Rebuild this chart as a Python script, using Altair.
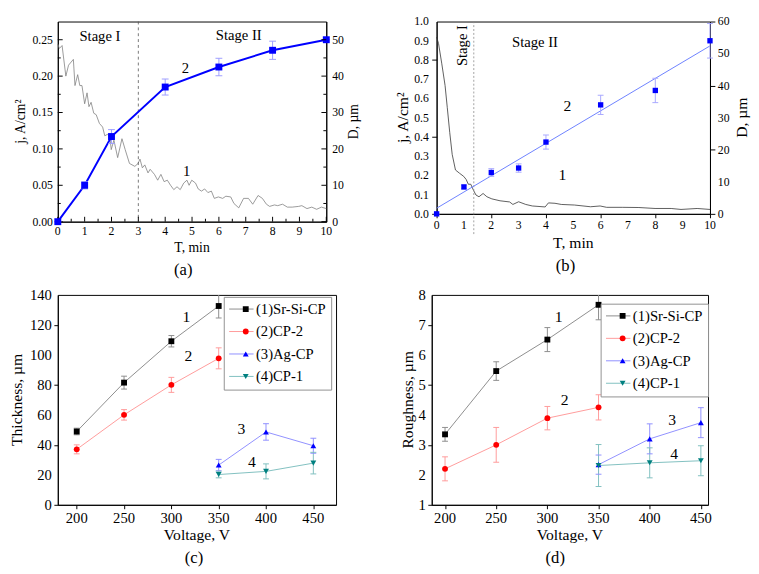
import altair as alt
import pandas as pd

FONT = "Liberation Serif"

# ---------------- Panel (a) data ----------------
a_curve_T = [0, 0.06, 0.16, 0.3, 0.4, 0.58, 0.64, 0.74, 0.82, 0.9, 1.0, 1.09, 1.16, 1.24, 1.34,
             1.43, 1.55, 1.67, 1.75, 1.85, 1.94, 1.99, 2.09, 2.23, 2.39, 2.51, 2.67, 2.87, 2.99, 3.06,
             3.15, 3.24, 3.36, 3.44, 3.6, 3.72, 3.84, 3.96, 4.08, 4.2, 4.32, 4.44, 4.56, 4.69, 4.81,
             4.89, 4.99, 5.13, 5.23, 5.35, 5.47, 5.59, 5.72, 5.83, 5.98, 6.14, 6.26, 6.44, 6.56, 6.74,
             6.92, 7.1, 7.26, 7.46, 7.62, 7.77, 7.89, 8.07, 8.19, 8.37, 8.55, 8.73, 8.97, 9.09, 9.28,
             9.46, 9.64, 9.82, 10]
a_curve_j = [0.244, 0.238, 0.242, 0.200, 0.215, 0.223, 0.187, 0.202, 0.187, 0.187, 0.162, 0.177, 0.158, 0.164, 0.149,
             0.147, 0.135, 0.130, 0.118, 0.120, 0.116, 0.099, 0.112, 0.088, 0.114, 0.099, 0.080, 0.076, 0.080, 0.086,
             0.074, 0.078, 0.067, 0.072, 0.065, 0.057, 0.065, 0.055, 0.057, 0.050, 0.044, 0.048, 0.044, 0.053, 0.057,
             0.050, 0.057, 0.053, 0.045, 0.042, 0.045, 0.040, 0.042, 0.032, 0.034, 0.032, 0.035, 0.034, 0.025, 0.019,
             0.032, 0.032, 0.024, 0.036, 0.032, 0.024, 0.021, 0.023, 0.022, 0.024, 0.020, 0.020, 0.021, 0.022, 0.018,
             0.020, 0.017, 0.020, 0.018]
a_pts_T = [0, 1, 2, 4, 6, 8, 10]
a_pts_D = [0, 10, 23.4, 37, 42.5, 47.1, 50]
a_pts_err = [0, 1.0, 1.9, 2.2, 2.4, 2.5, 0]
a_stage_T = [1.57, 6.74]
a_stage_j = [0.2546, 0.257]
a_stage_text = ["Stage I", "Stage II"]
a_stage_boundary = [3]

# ---------------- Panel (b) data ----------------
b_curve_T = [0, 0.07, 0.19, 0.31, 0.39, 0.48, 0.57, 0.69, 0.84, 0.99, 1.08, 1.16, 1.25, 1.35, 1.44,
             1.55, 1.70, 1.84, 2.02, 2.32, 2.67, 2.79, 3.0, 3.26, 3.5, 3.97, 4.09, 4.33, 4.56, 5.04,
             5.63, 5.98, 6.22, 6.81, 7.4, 7.99, 8.58, 8.94, 9.53, 10]
b_curve_j = [0.919, 0.886, 0.78, 0.667, 0.553, 0.423, 0.309, 0.228, 0.211, 0.195, 0.179, 0.154, 0.154, 0.122, 0.098,
             0.089, 0.106, 0.089, 0.078, 0.068, 0.062, 0.049, 0.063, 0.049, 0.041, 0.036, 0.057, 0.055, 0.049, 0.046,
             0.037, 0.041, 0.034, 0.034, 0.033, 0.028, 0.028, 0.023, 0.028, 0.023]
b_pts_T = [0, 1, 2, 3, 4, 6, 8, 10]
b_pts_D = [0, 8.4, 12.9, 14.3, 22.4, 34.0, 38.5, 54.0]
b_pts_err = [0, 0.6, 1.2, 1.3, 2.2, 3.0, 3.8, 5.4]
b_fit_T = [0, 10]
b_fit_D = [1.76, 52.4]
b_stage_boundary = [1.36]

# ---------------- Panels (c), (d) data ----------------
series_names = ["(1)Sr-Si-CP", "(2)CP-2", "(3)Ag-CP", "(4)CP-1"]
series_V = [[200, 250, 300, 350], [200, 250, 300, 350], [350, 400, 450], [350, 400, 450]]
c_vals = [[48.9, 81.5, 109.1, 132.6], [37.0, 60.0, 80.0, 97.7], [26.5, 48.6, 39.4], [20.2, 22.3, 27.8]]
c_errs = [[2.2, 4.3, 3.8, 8.0], [3.0, 3.5, 5.0, 7.0], [3.8, 5.5, 5.0], [2.2, 5.0, 7.2]]
d_vals = [[3.35, 5.46, 6.51, 7.67], [2.2, 3.0, 3.89, 4.25], [2.34, 3.2, 3.74], [2.31, 2.4, 2.47]]
d_errs = [[0.23, 0.31, 0.4, 0.5], [0.4, 0.58, 0.39, 0.42], [0.32, 0.5, 0.5], [0.7, 0.5, 0.5]]
c_lab_V = [316, 318, 374, 385]
c_lab_y = [125.3, 99.5, 50.8, 28.3]
d_lab_V = [311, 317, 422, 424]
d_lab_y = [7.26, 4.49, 3.82, 2.69]
lab_text = ["1", "2", "3", "4"]

# ---------------- tick values and tick labels ----------------
t_ticks = [0, 1, 2, 3, 4, 5, 6, 7, 8, 9, 10]
t_labels = ["0", "1", "2", "3", "4", "5", "6", "7", "8", "9", "10"]
t_minor = [0.5, 1.5, 2.5, 3.5, 4.5, 5.5, 6.5, 7.5, 8.5, 9.5]
a_j_ticks = [0, 0.05, 0.1, 0.15, 0.2, 0.25]
a_j_labels = ["0.00", "0.05", "0.10", "0.15", "0.20", "0.25"]
a_j_minor = [0.025, 0.075, 0.125, 0.175, 0.225]
a_D_ticks = [0, 10, 20, 30, 40, 50]
a_D_labels = ["0", "10", "20", "30", "40", "50"]
a_D_minor = [5, 15, 25, 35, 45]
b_j_ticks = [0, 0.1, 0.2, 0.3, 0.4, 0.5, 0.6, 0.7, 0.8, 0.9, 1.0]
b_j_labels = ["0.0", "0.1", "0.2", "0.3", "0.4", "0.5", "0.6", "0.7", "0.8", "0.9", "1.0"]
b_D_ticks = [0, 10, 20, 30, 40, 50, 60]
b_D_labels = ["0", "10", "20", "30", "40", "50", "60"]
v_ticks = [200, 250, 300, 350, 400, 450]
v_labels = ["200", "250", "300", "350", "400", "450"]
c_y_ticks = [0, 20, 40, 60, 80, 100, 120, 140]
c_y_labels = ["0", "20", "40", "60", "80", "100", "120", "140"]
d_y_ticks = [1, 2, 3, 4, 5, 6, 7, 8]
d_y_labels = ["1", "2", "3", "4", "5", "6", "7", "8"]

light_colors = ["#8c8c8c", "#ff9a9a", "#8f8fff", "#7fbfbf"]
dark_colors = ["#000000", "#ff0000", "#0000ff", "#008080"]
shapes = ["square", "circle", "triangle-up", "triangle-down"]


def axis(**kw):
    base = dict(labels=False, title=None, domainColor="black", tickColor="black", grid=False,
                labelColor="transparent")
    base.update(kw)
    return alt.Axis(**base)


def pos(ch, field):
    return ch(f"{field}:Q", title=None)


def text_layer(xs, ys, t, xf, yf, size, **kw):
    df = pd.DataFrame({xf: xs, yf: ys, "t": t})
    return alt.Chart(df).mark_text(font=FONT, fontSize=size, color="black", **kw).encode(
        x=pos(alt.X, xf), y=pos(alt.Y, yf), text="t:N")


def ylabels(vals, texts, field, x_px, align, size):
    df = pd.DataFrame({field: vals, "t": texts})
    return alt.Chart(df).mark_text(font=FONT, fontSize=size, color="black", align=align,
                                   baseline="middle").encode(
        y=pos(alt.Y, field), x=alt.value(x_px), text="t:N")


def xlabels(vals, texts, field, y_px, size):
    df = pd.DataFrame({field: vals, "t": texts})
    return alt.Chart(df).mark_text(font=FONT, fontSize=size, color="black", align="center",
                                   baseline="top").encode(
        x=pos(alt.X, field), y=alt.value(y_px), text="t:N")


def free_text(t, x_px, y_px, size, angle=0, baseline="middle"):
    return alt.Chart(pd.DataFrame({"t": [t]})).mark_text(
        font=FONT, fontSize=size, color="black", angle=angle, baseline=baseline, align="center").encode(
        x=alt.value(x_px), y=alt.value(y_px), text="t:N")


def caption(t, dx):
    return alt.TitleParams(t, orient="bottom", fontSize=17, font=FONT, fontWeight="normal",
                           color="black", offset=8, anchor="middle", dx=dx)


def err_layers(df, xf, cap, color=None, color_enc=None, clip=False):
    kw = {} if color_enc is None else {"color": color_enc}
    mk = {} if color is None else {"color": color}
    rule = alt.Chart(df).mark_rule(strokeWidth=1, clip=clip, **mk).encode(
        x=pos(alt.X, xf), y=pos(alt.Y, "lo"), y2="hi:Q", **kw)
    lo = alt.Chart(df).mark_point(shape="stroke", size=cap, strokeWidth=1, opacity=1, filled=False,
                                  clip=clip, **mk).encode(x=pos(alt.X, xf), y=pos(alt.Y, "lo"), **kw)
    hi = alt.Chart(df).mark_point(shape="stroke", size=cap, strokeWidth=1, opacity=1, filled=False,
                                  clip=clip, **mk).encode(x=pos(alt.X, xf), y=pos(alt.Y, "hi"), **kw)
    return [rule, lo, hi]


def vticks(vals, field, y0, length):
    return alt.Chart(pd.DataFrame({field: vals})).mark_rule(color="black").encode(
        x=pos(alt.X, field), y=alt.value(y0), y2=alt.value(y0 - length))


def hticks(vals, field, x0, length):
    return alt.Chart(pd.DataFrame({field: vals})).mark_rule(color="black").encode(
        y=pos(alt.Y, field), x=alt.value(x0), x2=alt.value(x0 + length))


# ======================= Panel (a) =======================
WA, HA = 275, 205
dfa_curve = pd.DataFrame({"T": a_curve_T, "j": a_curve_j})
dfa_pts = pd.DataFrame({"T": a_pts_T, "D": a_pts_D,
                        "lo": [d - e for d, e in zip(a_pts_D, a_pts_err)],
                        "hi": [d + e for d, e in zip(a_pts_D, a_pts_err)]})

xA = alt.X("T:Q", scale=alt.Scale(domain=[0, 10], nice=False), title=None, axis=axis(ticks=False))
yAj = alt.Y("j:Q", scale=alt.Scale(domain=[0, 0.275], nice=False), title=None, axis=axis(ticks=False))
yAD = alt.Y("D:Q", scale=alt.Scale(domain=[0, 55], nice=False), title=None,
            axis=axis(orient="right", ticks=False))

a_line_j = alt.Chart(dfa_curve).mark_line(color="#808080", strokeWidth=0.8).encode(x=xA, y=yAj)
a_vrule = alt.Chart(pd.DataFrame({"T": a_stage_boundary})).mark_rule(
    color="#555555", strokeDash=[3, 3], strokeWidth=0.8).encode(x=pos(alt.X, "T"))
a_stage = text_layer(a_stage_T, a_stage_j, a_stage_text, "T", "j", 15)
a_lab1 = text_layer([4.8], [0.069], ["1"], "T", "j", 15)

a_j_layers = [a_line_j, a_vrule, a_stage, a_lab1,
              vticks(t_ticks, "T", HA, 5), vticks(t_minor, "T", HA, 3),
              hticks(a_j_ticks, "j", 0, 5), hticks(a_j_minor, "j", 0, 3),
              ylabels(a_j_ticks, a_j_labels, "j", -5, "right", 12),
              xlabels(t_ticks, t_labels, "T", HA + 5, 12),
              free_text("T, min", WA / 2, HA + 20, 14, baseline="top"),
              free_text("j, A/cm²", -38, HA / 2, 14, angle=270)]

a_line_D = alt.Chart(dfa_pts).mark_line(color="#0000ff", strokeWidth=2).encode(x=pos(alt.X, "T"), y=yAD)
a_pts = alt.Chart(dfa_pts).mark_square(size=50, color="#0000ff", opacity=1).encode(
    x=pos(alt.X, "T"), y=pos(alt.Y, "D"))
a_D_layers = [a_line_D, *err_layers(dfa_pts, "T", 49, color="#9c9cff"), a_pts,
              text_layer([4.75], [42.1], ["2"], "T", "D", 15),
              hticks(a_D_ticks, "D", WA, -5), hticks(a_D_minor, "D", WA, -3),
              ylabels(a_D_ticks, a_D_labels, "D", WA + 6, "left", 12),
              free_text("D, µm", WA + 28, HA / 2, 14, angle=270)]

panel_a = alt.layer(alt.layer(*a_j_layers), alt.layer(*a_D_layers)).resolve_scale(
    y="independent").properties(width=WA, height=HA, title=caption("(a)", -9))

# ======================= Panel (b) =======================
WB, HB = 280, 197
dfb_curve = pd.DataFrame({"T": b_curve_T, "j": b_curve_j})
dfb_pts = pd.DataFrame({"T": b_pts_T, "D": b_pts_D,
                        "lo": [d - e for d, e in zip(b_pts_D, b_pts_err)],
                        "hi": [d + e for d, e in zip(b_pts_D, b_pts_err)]})
dfb_fit = pd.DataFrame({"T": b_fit_T, "D": b_fit_D})

xB = alt.X("T:Q", scale=alt.Scale(domain=[0, 10], nice=False), title=None,
           axis=axis(values=t_ticks, tickSize=4))
yBj = alt.Y("j:Q", scale=alt.Scale(domain=[0, 1], nice=False), title=None,
            axis=axis(values=b_j_ticks, tickSize=5))
yBD = alt.Y("D:Q", scale=alt.Scale(domain=[0, 60], nice=False), title=None,
            axis=axis(orient="right", values=b_D_ticks, tickSize=5))

b_line_j = alt.Chart(dfb_curve).mark_line(color="#333333", strokeWidth=0.8).encode(x=xB, y=yBj)
b_vrule = alt.Chart(pd.DataFrame({"T": b_stage_boundary, "j": [-0.105], "j1": [1.0]})).mark_rule(
    color="#888888", strokeDash=[2, 2], strokeWidth=0.8).encode(x=pos(alt.X, "T"), y=pos(alt.Y, "j"), y2="j1:Q")
b_j_layers = [b_line_j, b_vrule,
              text_layer([0.93], [0.875], ["Stage I"], "T", "j", 15, angle=270),
              text_layer([3.6], [0.894], ["Stage II"], "T", "j", 15),
              text_layer([4.6], [0.203], ["1"], "T", "j", 16),
              text_layer([4.78], [0.561], ["2"], "T", "j", 16),
              ylabels(b_j_ticks, b_j_labels, "j", -8, "right", 12),
              xlabels(t_ticks, t_labels, "T", HB + 7, 12),
              free_text("T, min", WB / 2, HB + 22, 16, baseline="top"),
              free_text("j, A/cm²", -34, HB / 2, 16, angle=270)]

b_fit = alt.Chart(dfb_fit).mark_line(color="#6b7fff", strokeWidth=1).encode(x=pos(alt.X, "T"), y=yBD)
b_pts = alt.Chart(dfb_pts).mark_square(size=30, color="#0000ff", opacity=1).encode(
    x=pos(alt.X, "T"), y=pos(alt.Y, "D"))
b_D_layers = [b_fit, *err_layers(dfb_pts, "T", 36, color="#a8a8ff"), b_pts,
              ylabels(b_D_ticks, b_D_labels, "D", WB + 8, "left", 12),
              free_text("D, µm", WB + 33, HB / 2, 16, angle=270)]

panel_b = alt.layer(alt.layer(*b_j_layers), alt.layer(*b_D_layers)).resolve_scale(
    y="independent").properties(width=WB, height=HB, title=caption("(b)", -8))


# ======================= Panels (c), (d) =======================
def make_cd(vals, errs, ydom, yticks, ylabs, ytitle, ytitle_x, xdom, W, H, labV, labY,
            legX, legY, cap, cap_dx):
    rows = []
    for name, Vs, vs, es in zip(series_names, series_V, vals, errs):
        for V, v, e in zip(Vs, vs, es):
            rows.append({"series": name, "line_series": name, "V": V, "val": v, "lo": v - e, "hi": v + e})
    df = pd.DataFrame(rows)
    x = alt.X("V:Q", scale=alt.Scale(domain=xdom, nice=False, zero=False), title=None,
              axis=axis(values=v_ticks, tickSize=4))
    y = alt.Y("val:Q", scale=alt.Scale(domain=ydom, nice=False, zero=False), title=None,
              axis=axis(values=yticks, tickSize=4))
    line_legend = alt.Legend(title=None, orient="none", legendX=legX, legendY=legY, symbolType="stroke",
                             symbolSize=625, symbolStrokeWidth=1, labelFont=FONT, labelFontSize=15,
                             labelColor="black", labelOffset=2, rowPadding=7, padding=5, clipHeight=15,
                             strokeColor="#909090", fillColor="white", labelLimit=300)
    color_enc = alt.Color("line_series:N", scale=alt.Scale(range=light_colors), legend=line_legend)
    line = alt.Chart(df).mark_line(strokeWidth=1).encode(x=x, y=y, color=color_enc)
    errs_l = err_layers(df, "V", 36, color_enc=color_enc, clip=True)
    mk_legend = alt.Legend(title=None, orient="none", legendX=legX, legendY=legY, symbolSize=36,
                           symbolStrokeWidth=0, symbolOffset=10, labelFont=FONT, labelFontSize=15,
                           labelOpacity=0, labelOffset=2, rowPadding=7, padding=5, clipHeight=15,
                           labelLimit=300)
    pts = alt.Chart(df).mark_point(filled=True, size=36, opacity=1).encode(
        x=pos(alt.X, "V"), y=pos(alt.Y, "val"),
        fill=alt.Fill("series:N", scale=alt.Scale(domain=series_names, range=dark_colors), legend=mk_legend),
        shape=alt.Shape("series:N", scale=alt.Scale(domain=series_names, range=shapes), legend=mk_legend))
    labs = text_layer(labV, labY, lab_text, "V", "val", 16)
    guides = [ylabels(yticks, ylabs, "val", -6, "right", 15),
              xlabels(v_ticks, v_labels, "V", H + 7, 15),
              free_text("Voltage, V", W / 2, H + 23, 16, baseline="top"),
              free_text(ytitle, ytitle_x, H / 2, 16, angle=270)]
    return alt.layer(line, *errs_l, pts, labs, *guides).properties(
        width=W, height=H, title=caption(cap, cap_dx))


panel_c = make_cd(c_vals, c_errs, [0, 140], c_y_ticks, c_y_labels, "Thickness, µm", -42,
                  [180, 474], 285, 215, c_lab_V, c_lab_y, 170, 2, "(c)", -3)
panel_d = make_cd(d_vals, d_errs, [1, 8], d_y_ticks, d_y_labels, "Roughness, µm", -24,
                  [187, 457], 283, 215, d_lab_V, d_lab_y, 173, 9, "(d)", -15)

res_sc = dict(color="independent", fill="independent", shape="independent")

row1 = alt.hconcat(panel_a, panel_b, spacing=34)
row2 = alt.hconcat(panel_c, panel_d, spacing=64).resolve_scale(**res_sc).resolve_legend(**res_sc)

chart = alt.vconcat(row1, row2, spacing=8).resolve_scale(**res_sc).resolve_legend(**res_sc).properties(
    padding=0
).configure_view(stroke="black", strokeWidth=1).configure_axis(grid=False).configure_legend(labelFont=FONT)

chart.save("out.html", embed_options={"renderer": "svg", "actions": False})
